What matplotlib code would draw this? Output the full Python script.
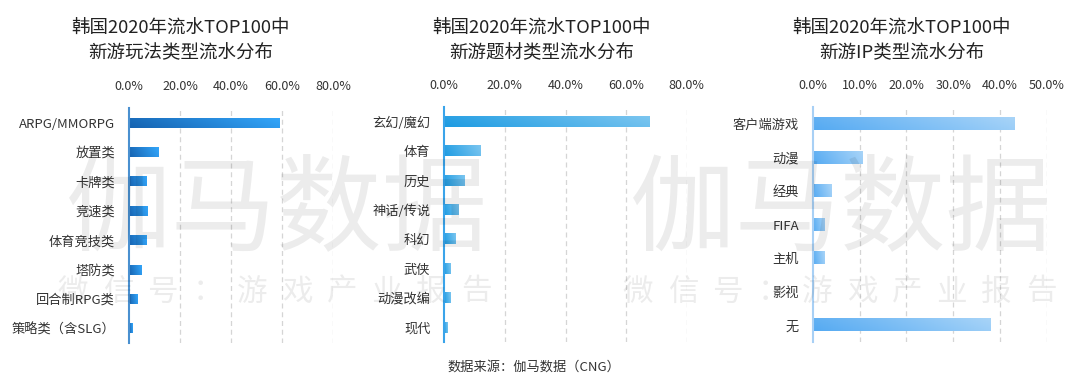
import numpy as np
import matplotlib
matplotlib.use('Agg')
import matplotlib.pyplot as plt
from matplotlib.colors import LinearSegmentedColormap

plt.rcParams['font.family'] = ['Noto Sans CJK SC', 'DejaVu Sans']

# data (percent)
play_types = ['ARPG/MMORPG', '放置类', '卡牌类', '竞速类', '体育竞技类', '塔防类', '回合制RPG类', '策略类（含SLG）']
play_vals = [59.1, 11.5, 6.7, 7.4, 6.7, 4.8, 3.5, 1.4]

theme_types = ['玄幻/魔幻', '体育', '历史', '神话/传说', '科幻', '武侠', '动漫改编', '现代']
theme_vals = [67.9, 11.9, 6.7, 4.8, 3.9, 2.2, 2.2, 1.1]

ip_types = ['客户端游戏', '动漫', '经典', 'FIFA', '主机', '影视', '无']
ip_vals = [43.0, 10.6, 3.9, 2.4, 2.4, 0.0, 37.9]

titles = ['韩国2020年流水TOP100中\n新游玩法类型流水分布',
          '韩国2020年流水TOP100中\n新游题材类型流水分布',
          '韩国2020年流水TOP100中\n新游IP类型流水分布']

W, H = 1080, 381
fig = plt.figure(figsize=(W / 100, H / 100), dpi=100)


def add_panel(left, right, top, bottom, cats, vals, xmax, step, c0, c1, spine_c, bar_h):
    ax = fig.add_axes([left / W, 1 - bottom / H, (right - left) / W, (bottom - top) / H])
    n = len(cats)
    bars = ax.barh(range(n), vals, height=bar_h, color='none', edgecolor='none')
    cmap = LinearSegmentedColormap.from_list('g', [c0, c1])
    gx = np.linspace(0, 1, 200)
    gy = np.linspace(0, 1, 20)
    grad = 0.85 * gx[None, :] + 0.15 * (1 - gy[:, None])
    for b in bars:
        x, y, w, h = b.get_x(), b.get_y(), b.get_width(), b.get_height()
        if w <= 0:
            continue
        ax.imshow(grad, cmap=cmap, aspect='auto', extent=(x, x + w, y + h, y),
                  zorder=3, interpolation='bilinear', vmin=0, vmax=1)
    ax.set_xlim(0, xmax)
    ax.set_ylim(n - 0.5, -0.5)
    ticks = np.arange(0, xmax + 0.01, step)
    ax.set_xticks(ticks)
    ax.set_xticklabels([f'{t:.1f}%' for t in ticks], fontsize=9, color='#333333')
    ax.xaxis.tick_top()
    ax.tick_params(axis='x', length=0, pad=11)
    ax.set_yticks(range(n))
    ax.set_yticklabels(cats, fontsize=9.5, color='#333333')
    ax.tick_params(axis='y', length=0, pad=10)
    for t in ticks[1:]:
        ax.axvline(t, color='#d5d5d5', lw=0.9, ls=(0, (4, 3)), zorder=1)
    for s in ['top', 'right', 'bottom']:
        ax.spines[s].set_visible(False)
    ax.spines['left'].set_color(spine_c)
    ax.spines['left'].set_linewidth(1.5)
    ax.spines['left'].set_zorder(4)
    ax.set_facecolor('none')
    return ax


add_panel(129, 333, 108, 343, play_types, play_vals, 80, 20,
          '#1562b0', '#33a6fa', '#4a90d0', 0.34)
add_panel(444.3, 686.7, 107, 342, theme_types, theme_vals, 80, 20,
          '#1d9be2', '#7cc6f0', '#3aa4ea', 0.36)
add_panel(812.7, 1047, 107, 342, ip_types, ip_vals, 50, 10,
          '#55aaf2', '#a8d4f8', '#a8d0f5', 0.37)

for cx, t in zip([181, 542, 902], titles):
    fig.text(cx / W, 1 - 41 / H, t, ha='center', va='center', fontsize=13.3,
             color='#222222', linespacing=1.4)

fig.text(534 / W, 1 - 367 / H, '数据来源：伽马数据（CNG）', ha='center', va='center',
         fontsize=9.5, color='#333333')

# watermark
for cx in [277, 841]:
    fig.text(cx / W, 1 - 212 / H, '伽马数据', ha='center', va='center',
             fontsize=76, color='black', alpha=0.075, zorder=10)
for x0 in [73, 638]:
    for i, ch in enumerate('微信号：游戏产业报告'):
        fig.text((x0 + i * 44.8) / W, 1 - 292 / H, ch, ha='center', va='center',
                 fontsize=22, color='black', alpha=0.075, zorder=10)

fig.savefig('out.png', dpi=100)
